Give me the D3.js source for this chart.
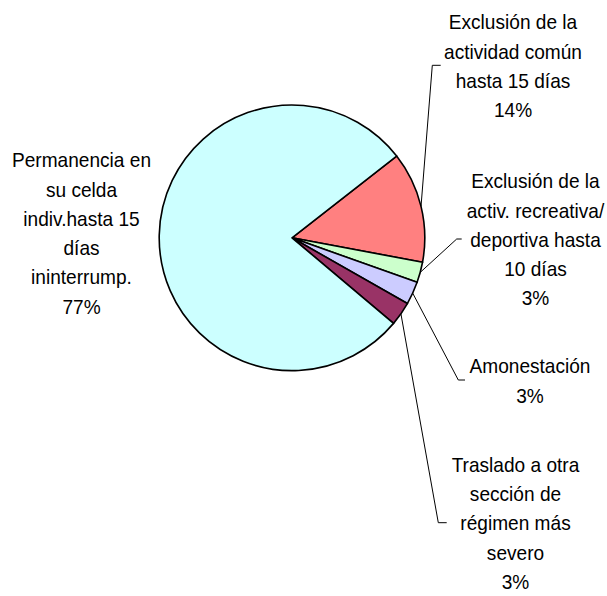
<!DOCTYPE html>
<html>
<head>
<meta charset="utf-8">
<script src="https://cdn.jsdelivr.net/npm/d3@7"></script>
<style>
  body { margin: 0; background: #fff; }
  .lbl { font-family: "Liberation Sans", Arial, sans-serif; font-size: 20px; fill: #000; }
</style>
</head>
<body>
<div id="chart"></div>
<script>
// Data (clockwise from the top-right edge of the big slice)
const categories = [
  ['Exclusión de la', 'actividad común', 'hasta 15 días'],
  ['Exclusión de la', 'activ. recreativa/', 'deportiva hasta', '10 días'],
  ['Amonestación'],
  ['Traslado a otra', 'sección de', 'régimen más', 'severo'],
  ['Permanencia en', 'su celda', 'indiv.hasta 15', 'días', 'ininterrump.'],
];
const shares = [13.5, 2.5, 2.8, 2.9, 78.3];
const pctLabels = ['14%', '3%', '3%', '3%', '77%'];
const colors = ['#ff8080', '#ccffcc', '#ccccff', '#993366', '#ccffff'];

// layout
const width = 607;
const height = 596;
const cx = 292;
const cy = 237.8;
const radius = 132.8;
const startDeg = 52;
const lineH = 29.3;
const narrow = 0.955; // slightly condensed glyphs

// label anchor: centre x, first baseline; leader: bend point and tick end
const labelPos = [
  { x: 513, y: 29.3, bend: [432.3, 65.3], end: [440.7, 65.3] },
  { x: 535.5, y: 188.3, bend: [456.7, 239], end: [461.7, 239] },
  { x: 530, y: 373.3, bend: [458.3, 380], end: [465, 380] },
  { x: 515.5, y: 471.7, bend: [438.3, 522.7], end: [446.7, 522.7] },
  { x: 81.5, y: 167.3, bend: null, end: null },
];

const data = shares.map((v, i) => ({ v, i }));

const svg = d3
  .select('#chart')
  .append('svg')
  .attr('width', width)
  .attr('height', height);

const pie = d3
  .pie()
  .value((d) => d.v)
  .sort(null)
  .startAngle((startDeg * Math.PI) / 180)
  .endAngle((startDeg * Math.PI) / 180 + 2 * Math.PI);

const arcs = pie(data);
const arc = d3.arc().innerRadius(0).outerRadius(radius);
const edgeArc = d3.arc().innerRadius(radius).outerRadius(radius);

const g = svg.append('g').attr('transform', `translate(${cx}, ${cy})`);

g.selectAll('path.slice')
  .data(arcs)
  .join('path')
  .attr('class', 'slice')
  .attr('d', arc)
  .attr('fill', (d) => colors[d.data.i])
  .attr('stroke', '#000')
  .attr('stroke-width', 1.6)
  .attr('stroke-linejoin', 'round');

// leader lines
svg
  .selectAll('polyline.leader')
  .data(arcs.filter((d) => labelPos[d.data.i].bend))
  .join('polyline')
  .attr('class', 'leader')
  .attr('fill', 'none')
  .attr('stroke', '#000')
  .attr('stroke-width', 1)
  .attr('points', (d) => {
    const p = labelPos[d.data.i];
    const c = edgeArc.centroid(d);
    return [[c[0] + cx, c[1] + cy], p.bend, p.end].map((q) => q.join(',')).join(' ');
  });

// labels
arcs.forEach((d) => {
  const i = d.data.i;
  const p = labelPos[i];
  const lines = categories[i].concat([pctLabels[i]]);
  const t = svg
    .append('text')
    .attr('class', 'lbl')
    .attr('text-anchor', 'middle')
    .attr('transform', `translate(${p.x}, 0) scale(${narrow}, 1)`);
  lines.forEach((ln, k) => {
    t.append('tspan')
      .attr('x', 0)
      .attr('y', p.y + k * lineH)
      .text(ln);
  });
});
</script>
</body>
</html>
